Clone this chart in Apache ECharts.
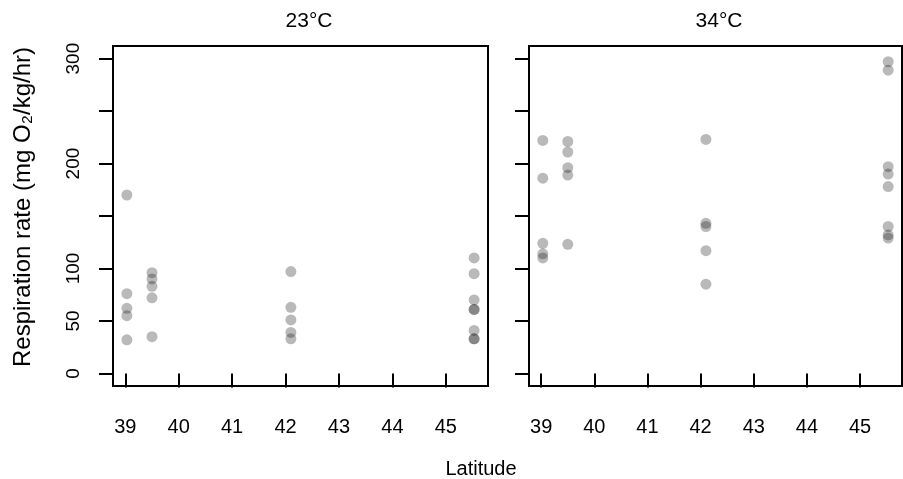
<!DOCTYPE html>
<html>
<head>
<meta charset="utf-8">
<script src="https://cdn.jsdelivr.net/npm/echarts@6/dist/echarts.min.js"></script>
<style>
  html, body { margin: 0; padding: 0; background: #fff; }
  #main { width: 903px; height: 479px; }
</style>
</head>
<body>
<div id="main"></div>
<script>
// sampling latitudes (one column of points per site)
const latitudes = [39.03, 39.5, 42.1, 45.53];
// respiration rate (mg O2/kg/hr) per latitude, 23 °C
const rate23 = [
  [170, 76, 62, 55, 32],
  [96, 90, 83, 72, 35],
  [97, 63, 51, 39, 33],
  [110, 95, 70, 61, 61, 41, 33, 33]
];
// respiration rate per latitude, 34 °C
const rate34 = [
  [222, 186, 124, 114, 110],
  [221, 211, 196, 189, 123],
  [223, 143, 140, 117, 85],
  [297, 289, 197, 190, 178, 140, 132, 129]
];
const panelTitles = ['23°C', '34°C'];
const xTicks = [39, 40, 41, 42, 43, 44, 45];
const yTicks = [0, 50, 100, 150, 200, 250, 300];
const yLabels = [0, 50, 100, 200, 300];

function toPoints(rates) {
  let pts = [];
  rates.forEach((col, i) => col.forEach(v => pts.push([latitudes[i], v])));
  return pts;
}

const font = '"Liberation Sans", Arial, sans-serif';
const tickStyle = { show: true, inside: false, length: 14, lineStyle: { color: '#000', width: 2 } };

function xAxisFor(idx) {
  return {
    type: 'value', gridIndex: idx, min: 38.77, max: 45.79,
    axisLine: { show: false },
    splitLine: { show: false },
    axisTick: Object.assign({ customValues: xTicks }, tickStyle),
    axisLabel: { customValues: xTicks, fontSize: 20, color: '#000', fontFamily: font, margin: 31 }
  };
}
function yAxisFor(idx, labels) {
  return {
    type: 'value', gridIndex: idx, min: -12, max: 312,
    axisLine: { show: false },
    splitLine: { show: false },
    axisTick: Object.assign({ customValues: yTicks }, tickStyle),
    axisLabel: {
      show: labels, customValues: yLabels, rotate: 90, fontSize: 19,
      color: '#000', fontFamily: font, margin: 30
    },
    name: labels ? 'Respiration rate (mg O₂/kg/hr)' : '',
    nameLocation: 'middle', nameRotate: 90, nameGap: 78,
    nameTextStyle: { fontSize: 24, color: '#000', fontFamily: font, padding: [0, 0, 0, 18] }
  };
}

const chart = echarts.init(document.getElementById('main'));
chart.setOption({
  animation: false,
  backgroundColor: '#fff',
  title: [
    { text: panelTitles[0], left: 304, top: 6, textAlign: 'center',
      textStyle: { fontSize: 21, fontWeight: 'normal', color: '#000', fontFamily: font } },
    { text: panelTitles[1], left: 714, top: 6, textAlign: 'center',
      textStyle: { fontSize: 21, fontWeight: 'normal', color: '#000', fontFamily: font } },
    { text: 'Latitude', left: 476, top: 454, textAlign: 'center',
      textStyle: { fontSize: 20, fontWeight: 'normal', color: '#000', fontFamily: font } }
  ],
  grid: [
    { left: 113, top: 46, width: 375, height: 340, show: true, borderColor: '#000', borderWidth: 2 },
    { left: 529, top: 46, width: 373, height: 340, show: true, borderColor: '#000', borderWidth: 2 }
  ],
  xAxis: [xAxisFor(0), xAxisFor(1)],
  yAxis: [yAxisFor(0, true), yAxisFor(1, false)],
  series: [
    { type: 'scatter', xAxisIndex: 0, yAxisIndex: 0, data: toPoints(rate23),
      symbolSize: 11, itemStyle: { color: 'rgba(0,0,0,0.34)' } },
    { type: 'scatter', xAxisIndex: 1, yAxisIndex: 1, data: toPoints(rate34),
      symbolSize: 11, itemStyle: { color: 'rgba(0,0,0,0.34)' } }
  ]
});
</script>
</body>
</html>
